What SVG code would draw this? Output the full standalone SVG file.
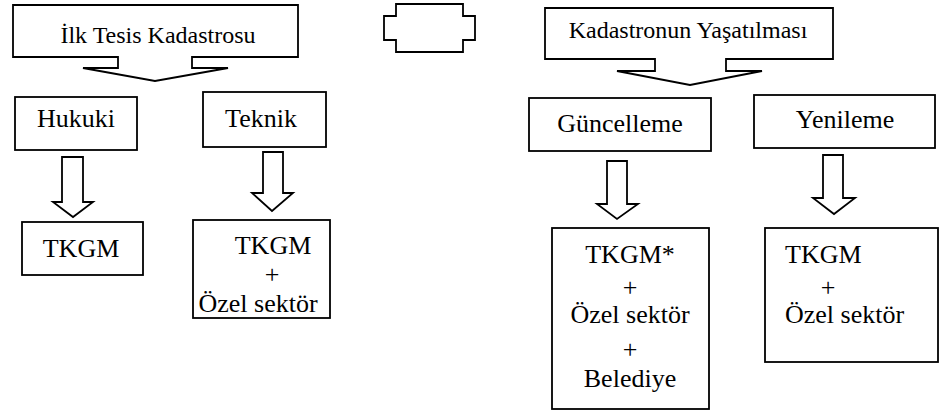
<svg xmlns="http://www.w3.org/2000/svg" width="942" height="411" viewBox="0 0 942 411">
<style>
.s{fill:#fff;stroke:#000;stroke-width:1.8;stroke-linejoin:miter}
text{font-family:'Liberation Serif','Times New Roman',serif;fill:#000}
.t{font-size:26px}
.h{font-size:24px}
.c{text-anchor:middle}
</style>
<rect width="942" height="411" fill="#fff"/>
<g id="ilk-tesis">
<path class="s" d="M13,5 H298 V57 H192 V68 H228 L155,81 L83,68 H118 V57 H13 Z"/>
<text class="h c" x="158" y="43">İlk Tesis Kadastrosu</text>
</g>
<g id="middle-shape">
<path class="s" d="M396,4 H463 V16 H475 V40 H463 V52 H396 V40 H384 V16 H396 Z"/>
</g>
<g id="yasatilmasi">
<path class="s" d="M545,8 H833 V59 H726 V71 H762 L690,85 L617,71 H655 V59 H545 Z"/>
<text class="h c" x="688" y="38">Kadastronun Yaşatılması</text>
</g>
<g id="hukuki">
<rect class="s" x="15" y="97" width="122" height="53"/>
<text class="t c" x="76" y="127">Hukuki</text>
</g>
<g id="teknik">
<rect class="s" x="203" y="92" width="123" height="55"/>
<text class="t c" x="261" y="127">Teknik</text>
</g>
<g id="guncelleme">
<rect class="s" x="529" y="98" width="182" height="53"/>
<text class="t c" x="620" y="132">Güncelleme</text>
</g>
<g id="yenileme">
<rect class="s" x="754" y="95" width="181" height="53"/>
<text class="t c" x="845" y="128">Yenileme</text>
</g>
<g id="hukuki-result">
<rect class="s" x="22" y="222" width="121" height="53"/>
<text class="t c" x="81" y="257">TKGM</text>
</g>
<g id="teknik-result">
<rect class="s" x="193" y="220" width="137" height="98"/>
<text class="t c" x="273" y="254">TKGM</text>
<text class="t c" x="272" y="283">+</text>
<text class="t c" x="258" y="312">Özel sektör</text>
</g>
<g id="guncelleme-result">
<rect class="s" x="552" y="228" width="157" height="181"/>
<text class="t c" x="630" y="263">TKGM*</text>
<text class="t c" x="630" y="296">+</text>
<text class="t c" x="630" y="323">Özel sektör</text>
<text class="t c" x="630" y="358">+</text>
<text class="t c" x="630" y="387">Belediye</text>
</g>
<g id="yenileme-result">
<rect class="s" x="765" y="228" width="173" height="134"/>
<text class="t" x="785" y="263">TKGM</text>
<text class="t c" x="828" y="296">+</text>
<text class="t" x="785" y="323">Özel sektör</text>
</g>
<g id="connectors">
<path class="s" d="M62,157 H83 V202 H93 L73,217 L53,202 H62 Z"/>
<path class="s" d="M263,152 H283 V193 H293 L272,211 L252,193 H263 Z"/>
<path class="s" d="M607,161 H627 V204 H638 L617,219 L597,204 H607 Z"/>
<path class="s" d="M823,155 H843 V198 H855 L834,214 L813,198 H823 Z"/>
</g>
</svg>
